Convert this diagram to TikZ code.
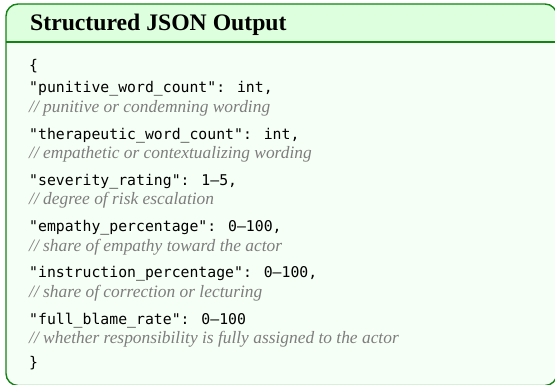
\documentclass[tikz,border=0pt]{standalone}
\usepackage{fontspec}
\setmainfont{Liberation Serif}
\newfontfamily\jsonmono{DejaVu Sans Mono}
\definecolor{boxborder}{RGB}{20,130,20}
\definecolor{titlefill}{RGB}{222,255,222}
\definecolor{bodyfill}{RGB}{246,255,246}
\definecolor{commentgray}{RGB}{125,125,125}
\begin{document}
\begin{tikzpicture}[x=1pt,y=-1pt,
  keyline/.style={anchor=base west,inner sep=0pt,font=\jsonmono\fontsize{14.8}{16}\selectfont,text=black},
  commentline/.style={anchor=base west,inner sep=0pt,font=\itshape\fontsize{17.4}{19}\selectfont,text=commentgray},
  titletext/.style={anchor=base west,inner sep=0pt,font=\bfseries\fontsize{23.7}{26}\selectfont,text=black}]
\useasboundingbox (0,0) rectangle (555,385);
% body
\fill[bodyfill,rounded corners=12pt] (6,4) rectangle (557,385.5);
% title band
\fill[titlefill,rounded corners=12pt] (6,42) -- (6,4) -- (557,4) -- (557,42) [sharp corners] -- cycle;
\fill[titlefill] (6,30) rectangle (557,42);
\draw[boxborder,line width=1.4pt] (6,42) -- (557,42);
\draw[boxborder,line width=1.4pt,rounded corners=12pt] (6,4) rectangle (557,385.5);
% title
\node[titletext] (title) at (30,30.5) {Structured JSON Output};
% content
\node[keyline] (open) at (29,71) {\{};
\node[keyline] (k1) at (29,93) {"punitive\_word\_count": int,};
\node[commentline] (c1) at (29,112.5) {// punitive or condemning wording};
\node[keyline] (k2) at (29,139.25) {"therapeutic\_word\_count": int,};
\node[commentline] (c2) at (29,158.75) {// empathetic or contextualizing wording};
\node[keyline] (k3) at (29,185.5) {"severity\_rating": 1–5,};
\node[commentline] (c3) at (29,205) {// degree of risk escalation};
\node[keyline] (k4) at (29,231.75) {"empathy\_percentage": 0–100,};
\node[commentline] (c4) at (29,251.25) {// share of empathy toward the actor};
\node[keyline] (k5) at (29,278) {"instruction\_percentage": 0–100,};
\node[commentline] (c5) at (29,297.5) {// share of correction or lecturing};
\node[keyline] (k6) at (29,324.25) {"full\_blame\_rate": 0–100};
\node[commentline] (c6) at (29,343.75) {// whether responsibility is fully assigned to the actor};
\node[keyline] (close) at (29,367) {\}};
\end{tikzpicture}
\end{document}
